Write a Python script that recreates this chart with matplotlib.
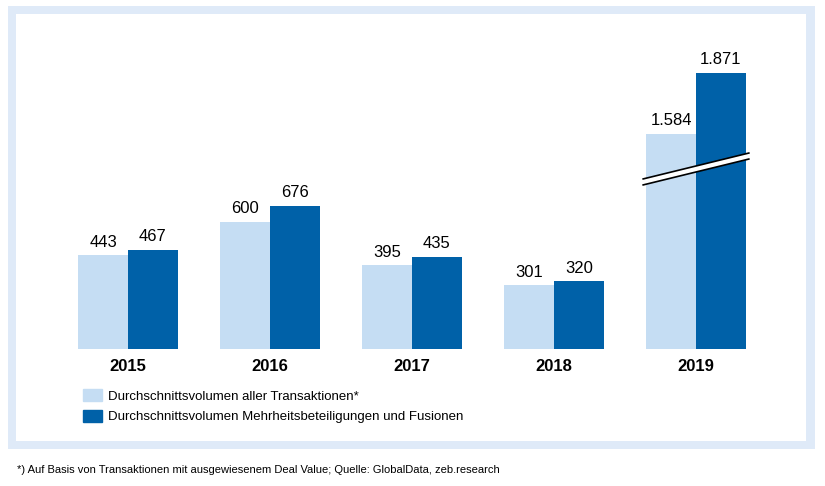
import numpy as np
import matplotlib.pyplot as plt
from matplotlib.patches import Rectangle, Polygon

plt.rcParams['font.family'] = ['Liberation Sans', 'DejaVu Sans']

# --- data ---
years = ['2015', '2016', '2017', '2018', '2019']
alle = [443, 600, 395, 301, 1584]
mehrheit = [467, 676, 435, 320, 1871]
alle_labels = ['443', '600', '395', '301', '1.584']
mehrheit_labels = ['467', '676', '435', '320', '1.871']
legend_labels = ['Durchschnittsvolumen aller Transaktionen*',
                 'Durchschnittsvolumen Mehrheitsbeteiligungen und Fusionen']
footnote = '*) Auf Basis von Transaktionen mit ausgewiesenem Deal Value; Quelle: GlobalData, zeb.research'

LIGHT = '#c5ddf3'
DARK = '#0061a8'
FRAME = '#dfeaf8'

# broken axis: compress the range between LO and HI
LO, HI, EPS = 900.0, 1475.0, 0.01


def fwd(v):
    v = np.asarray(v, dtype=float)
    return np.where(v <= LO, v,
                    np.where(v < HI, LO + (v - LO) * EPS,
                             LO + (HI - LO) * EPS + (v - HI)))


def inv(d):
    d = np.asarray(d, dtype=float)
    mid = LO + (HI - LO) * EPS
    return np.where(d <= LO, d,
                    np.where(d < mid, LO + (d - LO) / EPS,
                             HI + (d - mid)))


fig = plt.figure(figsize=(8.25, 4.86), dpi=100)

# light blue frame
fig.patches.append(Rectangle((8 / 825, 1 - 449 / 486), 807 / 825, 443 / 486,
                             transform=fig.transFigure, facecolor=FRAME,
                             edgecolor='none', zorder=0))
fig.patches.append(Rectangle((16 / 825, 1 - 441 / 486), 790 / 825, 427 / 486,
                             transform=fig.transFigure, facecolor='white',
                             edgecolor='none', zorder=0))

ax = fig.add_axes([57 / 825, 1 - 349 / 486, 710 / 825, 289 / 486], zorder=2)
ax.patch.set_alpha(0)
ax.set_yscale('function', functions=(fwd, inv))

x = np.arange(len(years))
w = 0.352
ax.bar(x - w / 2, alle, width=w, color=LIGHT, zorder=2)
ax.bar(x + w / 2, mehrheit, width=w, color=DARK, zorder=2)

ax.set_xlim(-0.5, 4.5)
ax.set_ylim(0, float(inv(1363)))

for xi, v, lab in zip(x - w / 2, alle, alle_labels):
    ax.annotate(lab, (xi, v), xytext=(0, 4), textcoords='offset points',
                ha='center', va='bottom', fontsize=12)
for xi, v, lab in zip(x + w / 2, mehrheit, mehrheit_labels):
    ax.annotate(lab, (xi, v), xytext=(0, 4), textcoords='offset points',
                ha='center', va='bottom', fontsize=12)

# break marker on the 2019 bars
bx0, bx1 = 4 - w - 0.02, 4 + w + 0.02
gap = 3.0 / 289 * 1363
poly = Polygon([(bx0, float(inv(788 - gap))), (bx1, float(inv(910 - gap))),
                (bx1, float(inv(910 + gap))), (bx0, float(inv(788 + gap)))],
               closed=True, facecolor='white', edgecolor='none', zorder=3)
ax.add_patch(poly)
ax.plot([bx0, bx1], [float(inv(788 - gap)), float(inv(910 - gap))],
        color='black', lw=1.2, zorder=4)
ax.plot([bx0, bx1], [float(inv(788 + gap)), float(inv(910 + gap))],
        color='black', lw=1.2, zorder=4)

ax.set_xticks(x)
ax.set_xticklabels(years, fontsize=12, fontweight='bold')
ax.tick_params(axis='x', length=0, pad=7)
ax.set_yticks([])
for s in ax.spines.values():
    s.set_visible(False)

# legend
handles = [Rectangle((0, 0), 1, 1, color=LIGHT), Rectangle((0, 0), 1, 1, color=DARK)]
fig.legend(handles, legend_labels, loc='upper left',
           bbox_to_anchor=(78 / 825, 1 - 384 / 486), frameon=False,
           fontsize=9.5, handlelength=1.44, handleheight=1.0,
           handletextpad=0.4, labelspacing=0.55, borderaxespad=0)

fig.text(17 / 825, 1 - 470 / 486, footnote, fontsize=8, va='center')

fig.savefig('out.png', dpi=100)
